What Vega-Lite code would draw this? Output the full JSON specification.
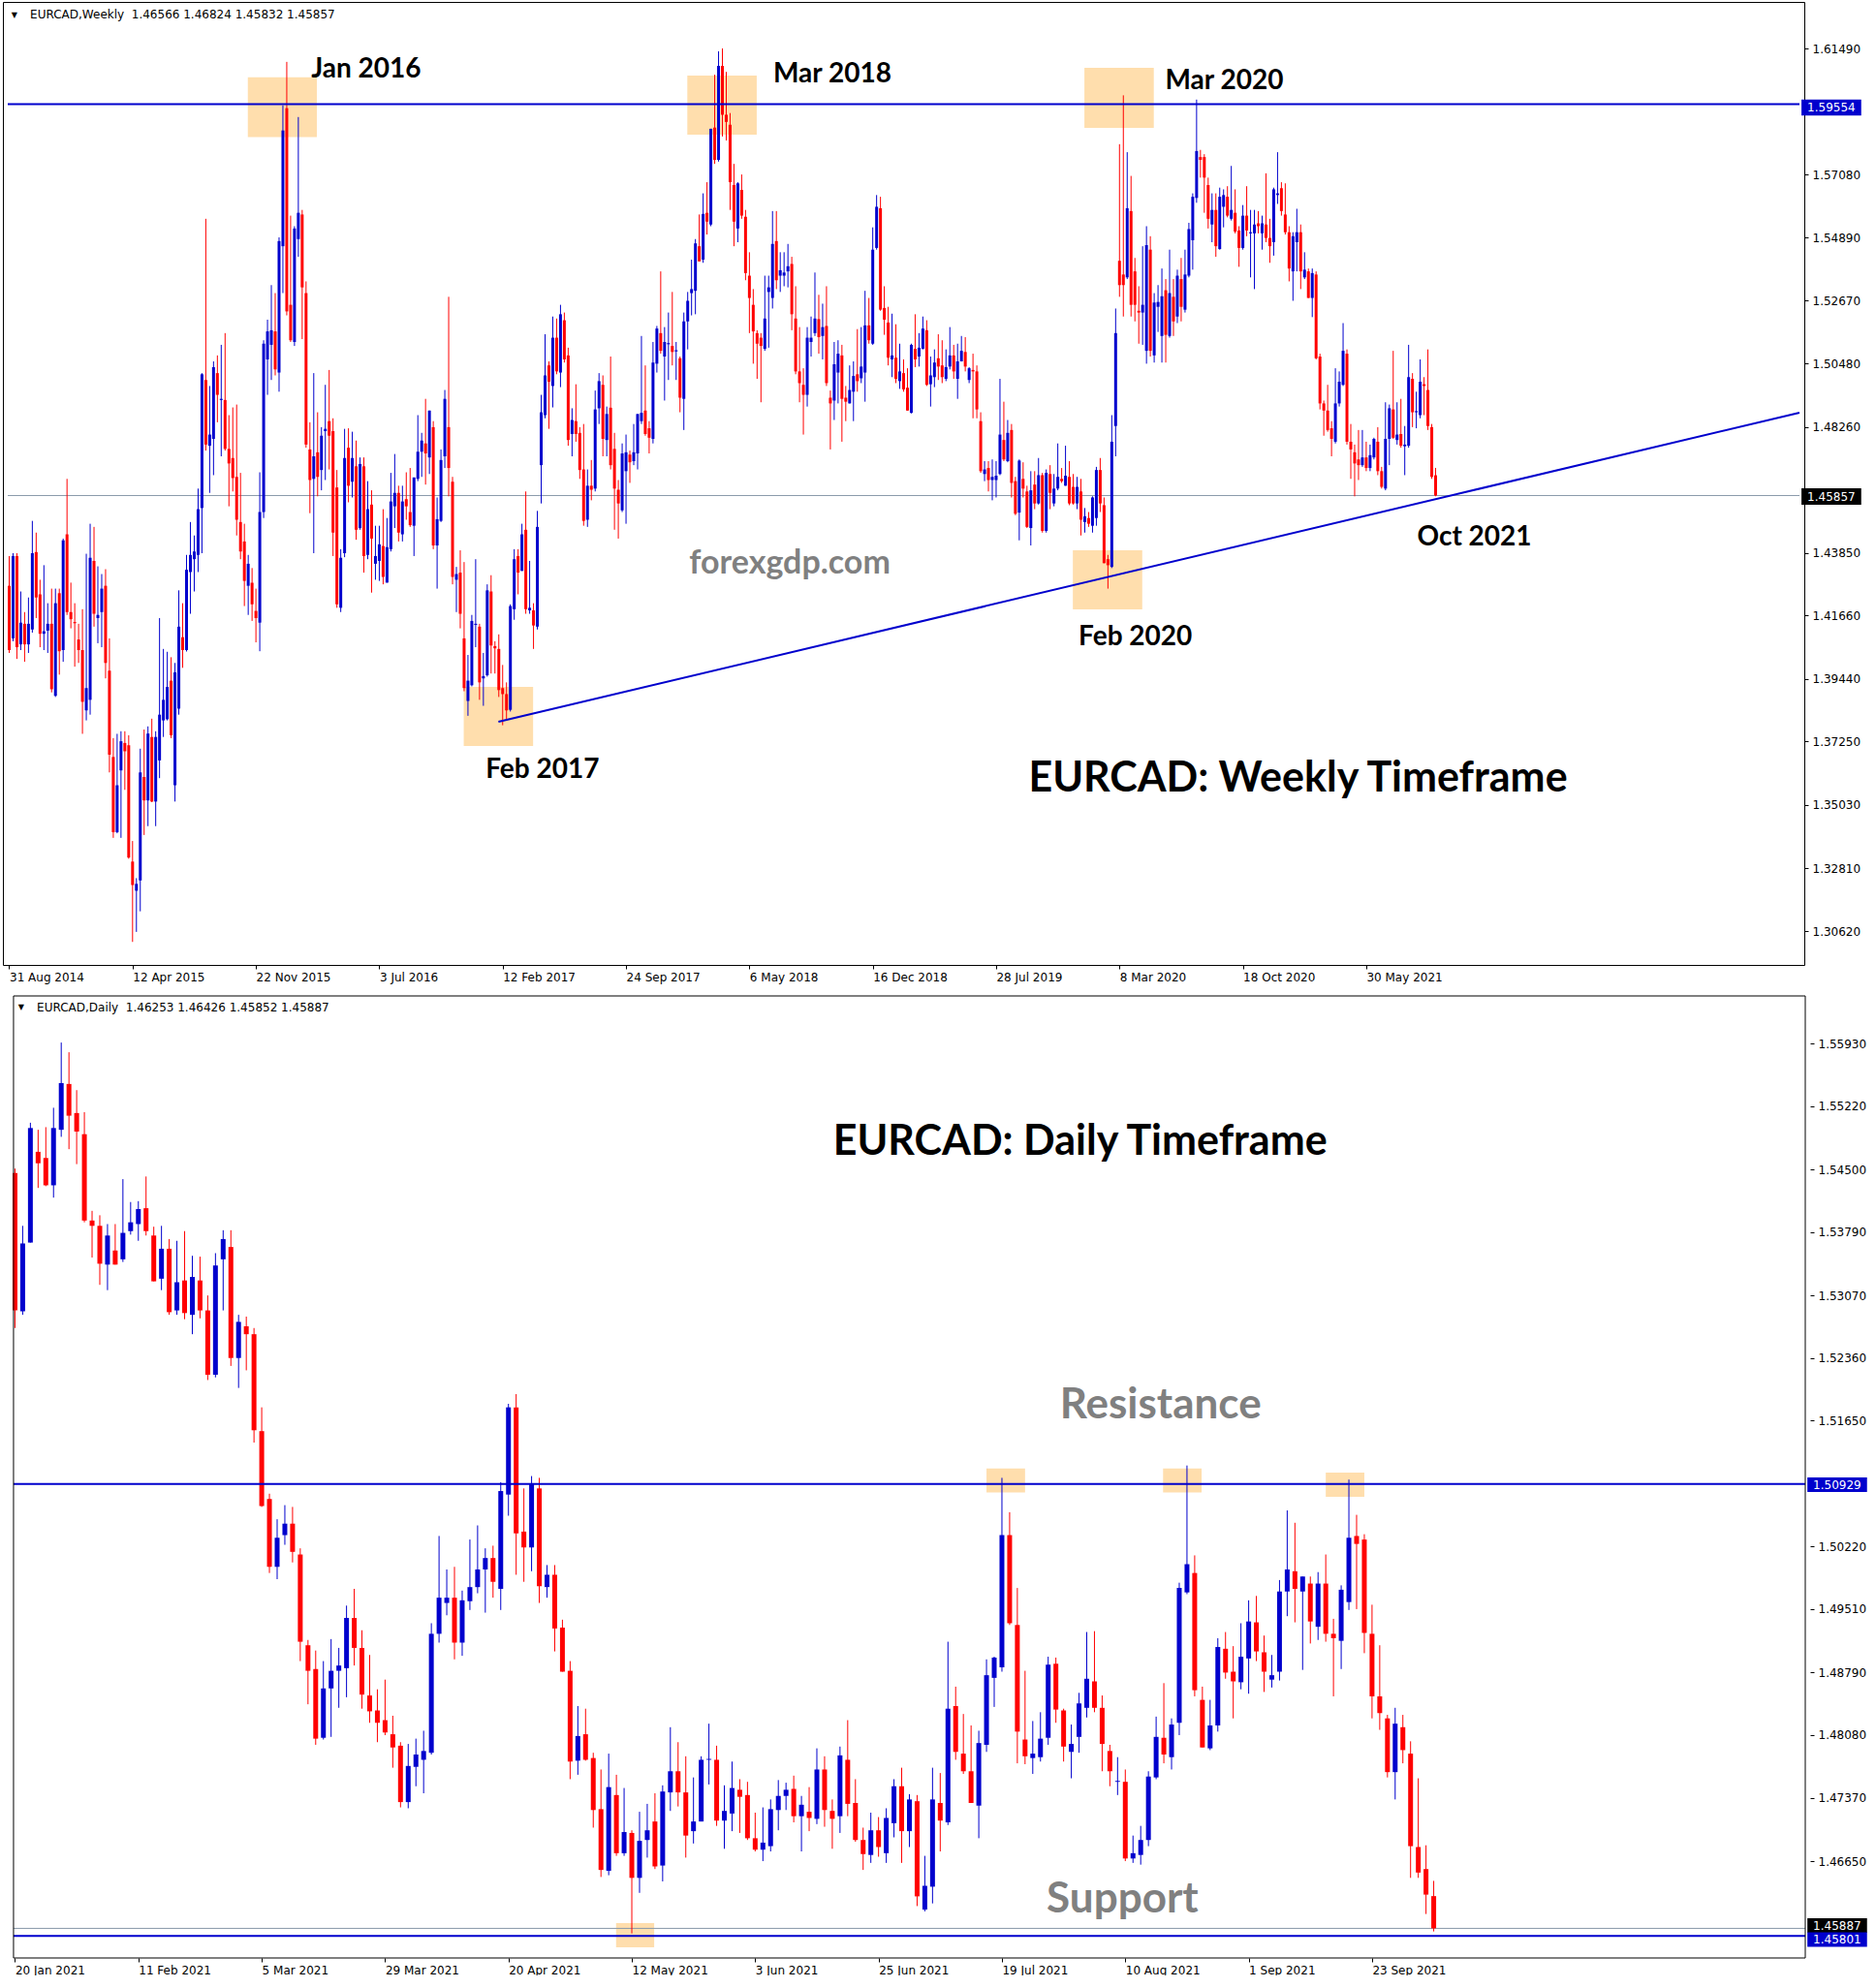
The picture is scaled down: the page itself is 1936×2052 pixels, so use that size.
{
"$schema": "https://vega.github.io/schema/vega-lite/v6.json",
"background": "white",
"padding": {"left": 2, "top": 1, "right": 0, "bottom": 0},
"config": {
  "view": {"stroke": "#000000", "strokeWidth": 1},
  "concat": {"spacing": 12},
  "axis": {"labelFont": "DejaVu Sans", "labelFontSize": 12, "labelColor": "#000000", "tickColor": "#000000", "tickSize": 4, "tickWidth": 1, "labelPadding": 4, "domain": false, "grid": false, "labelOverlap": false, "labelFlush": false, "labelBound": false},
  "text": {"font": "Lato"}
},
"datasets": {
"w": [
{"i":0,"o":1.4270,"h":1.4374,"l":1.4035,"c":1.4045},
{"i":1,"o":1.4086,"h":1.4384,"l":1.4076,"c":1.4374},
{"i":2,"o":1.4374,"h":1.4384,"l":1.4014,"c":1.4055},
{"i":3,"o":1.4065,"h":1.4250,"l":1.4045,"c":1.4141},
{"i":4,"o":1.4137,"h":1.4178,"l":1.4004,"c":1.4065},
{"i":5,"o":1.4065,"h":1.4229,"l":1.4035,"c":1.4137},
{"i":6,"o":1.4117,"h":1.4497,"l":1.4106,"c":1.4384},
{"i":7,"o":1.4388,"h":1.4456,"l":1.4157,"c":1.4229},
{"i":8,"o":1.4240,"h":1.4291,"l":1.4055,"c":1.4102},
{"i":9,"o":1.4102,"h":1.4342,"l":1.4045,"c":1.4111},
{"i":10,"o":1.4113,"h":1.4209,"l":1.4035,"c":1.4137},
{"i":11,"o":1.4137,"h":1.4260,"l":1.3897,"c":1.3908},
{"i":12,"o":1.3885,"h":1.4260,"l":1.3881,"c":1.4209},
{"i":13,"o":1.4244,"h":1.4260,"l":1.3959,"c":1.4041},
{"i":14,"o":1.4045,"h":1.4435,"l":1.4004,"c":1.4429},
{"i":15,"o":1.4450,"h":1.4644,"l":1.4168,"c":1.4178},
{"i":16,"o":1.4178,"h":1.4281,"l":1.4121,"c":1.4153},
{"i":17,"o":1.4143,"h":1.4209,"l":1.3987,"c":1.4139},
{"i":18,"o":1.4082,"h":1.4137,"l":1.4000,"c":1.4045},
{"i":19,"o":1.4045,"h":1.4188,"l":1.3752,"c":1.3864},
{"i":20,"o":1.3834,"h":1.4382,"l":1.3799,"c":1.3912},
{"i":21,"o":1.3871,"h":1.4487,"l":1.3819,"c":1.4368},
{"i":22,"o":1.4357,"h":1.4476,"l":1.4127,"c":1.4172},
{"i":23,"o":1.4157,"h":1.4338,"l":1.4069,"c":1.4168},
{"i":24,"o":1.4178,"h":1.4311,"l":1.4055,"c":1.4260},
{"i":25,"o":1.4270,"h":1.4328,"l":1.3946,"c":1.4000},
{"i":26,"o":1.3973,"h":1.4086,"l":1.3617,"c":1.3679},
{"i":27,"o":1.3671,"h":1.3737,"l":1.3388,"c":1.3408},
{"i":28,"o":1.3408,"h":1.3752,"l":1.3404,"c":1.3572},
{"i":29,"o":1.3624,"h":1.3761,"l":1.3388,"c":1.3726},
{"i":30,"o":1.3720,"h":1.3761,"l":1.3556,"c":1.3691},
{"i":31,"o":1.3712,"h":1.3747,"l":1.3315,"c":1.3319},
{"i":32,"o":1.3305,"h":1.3377,"l":1.3024,"c":1.3223},
{"i":33,"o":1.3203,"h":1.3247,"l":1.3059,"c":1.3227},
{"i":34,"o":1.3239,"h":1.3700,"l":1.3131,"c":1.3617},
{"i":35,"o":1.3601,"h":1.3767,"l":1.3398,"c":1.3519},
{"i":36,"o":1.3519,"h":1.3778,"l":1.3429,"c":1.3753},
{"i":37,"o":1.3741,"h":1.3805,"l":1.3513,"c":1.3515},
{"i":38,"o":1.3515,"h":1.3761,"l":1.3429,"c":1.3741},
{"i":39,"o":1.3659,"h":1.4157,"l":1.3597,"c":1.3819},
{"i":40,"o":1.3799,"h":1.4049,"l":1.3741,"c":1.3871},
{"i":41,"o":1.3803,"h":1.4039,"l":1.3799,"c":1.3916},
{"i":42,"o":1.3938,"h":1.4020,"l":1.3737,"c":1.3747},
{"i":43,"o":1.3572,"h":1.4000,"l":1.3515,"c":1.3967},
{"i":44,"o":1.3840,"h":1.4254,"l":1.3819,"c":1.4127},
{"i":45,"o":1.4090,"h":1.4209,"l":1.3983,"c":1.4045},
{"i":46,"o":1.4045,"h":1.4378,"l":1.4040,"c":1.4326},
{"i":47,"o":1.4318,"h":1.4493,"l":1.4172,"c":1.4378},
{"i":48,"o":1.4363,"h":1.4446,"l":1.4250,"c":1.4390},
{"i":49,"o":1.4378,"h":1.4610,"l":1.4318,"c":1.4538},
{"i":50,"o":1.4542,"h":1.5014,"l":1.4384,"c":1.5010},
{"i":51,"o":1.4990,"h":1.5554,"l":1.4743,"c":1.4764},
{"i":52,"o":1.4760,"h":1.4969,"l":1.4595,"c":1.4799},
{"i":53,"o":1.4784,"h":1.5055,"l":1.4657,"c":1.5035},
{"i":54,"o":1.5014,"h":1.5076,"l":1.4842,"c":1.4938},
{"i":55,"o":1.4920,"h":1.5113,"l":1.4723,"c":1.4924},
{"i":56,"o":1.4920,"h":1.5154,"l":1.4743,"c":1.4749},
{"i":57,"o":1.4749,"h":1.4867,"l":1.4548,"c":1.4698},
{"i":58,"o":1.4717,"h":1.4894,"l":1.4600,"c":1.4647},
{"i":59,"o":1.4651,"h":1.4904,"l":1.4446,"c":1.4501},
{"i":60,"o":1.4493,"h":1.4665,"l":1.4363,"c":1.4390},
{"i":61,"o":1.4425,"h":1.4487,"l":1.4199,"c":1.4287},
{"i":62,"o":1.4270,"h":1.4378,"l":1.4168,"c":1.4347},
{"i":63,"o":1.4281,"h":1.4332,"l":1.4147,"c":1.4205},
{"i":64,"o":1.4182,"h":1.4260,"l":1.4072,"c":1.4157},
{"i":65,"o":1.4141,"h":1.4667,"l":1.4041,"c":1.4528},
{"i":66,"o":1.4528,"h":1.5129,"l":1.4507,"c":1.5117},
{"i":67,"o":1.5062,"h":1.5201,"l":1.4938,"c":1.5160},
{"i":68,"o":1.5113,"h":1.5322,"l":1.4990,"c":1.5164},
{"i":69,"o":1.5160,"h":1.5294,"l":1.5006,"c":1.5027},
{"i":70,"o":1.5016,"h":1.5489,"l":1.4949,"c":1.5476},
{"i":71,"o":1.5458,"h":1.5951,"l":1.5294,"c":1.5863},
{"i":72,"o":1.5941,"h":1.6103,"l":1.5216,"c":1.5230},
{"i":73,"o":1.5253,"h":1.5565,"l":1.5123,"c":1.5129},
{"i":74,"o":1.5123,"h":1.5528,"l":1.5109,"c":1.5520},
{"i":75,"o":1.5483,"h":1.5910,"l":1.5421,"c":1.5575},
{"i":76,"o":1.5569,"h":1.5585,"l":1.5133,"c":1.5314},
{"i":77,"o":1.5294,"h":1.5335,"l":1.4753,"c":1.4764},
{"i":78,"o":1.4747,"h":1.4842,"l":1.4524,"c":1.4640},
{"i":79,"o":1.4644,"h":1.5014,"l":1.4384,"c":1.4723},
{"i":80,"o":1.4737,"h":1.4877,"l":1.4583,"c":1.4651},
{"i":81,"o":1.4675,"h":1.4825,"l":1.4604,"c":1.4795},
{"i":82,"o":1.4811,"h":1.4973,"l":1.4640,"c":1.4819},
{"i":83,"o":1.4846,"h":1.5025,"l":1.4677,"c":1.4795},
{"i":84,"o":1.4811,"h":1.4856,"l":1.4374,"c":1.4456},
{"i":85,"o":1.4614,"h":1.4675,"l":1.4193,"c":1.4205},
{"i":86,"o":1.4193,"h":1.4398,"l":1.4178,"c":1.4368},
{"i":87,"o":1.4384,"h":1.4819,"l":1.4370,"c":1.4717},
{"i":88,"o":1.4753,"h":1.4821,"l":1.4562,"c":1.4620},
{"i":89,"o":1.4634,"h":1.4809,"l":1.4579,"c":1.4717},
{"i":90,"o":1.4688,"h":1.4778,"l":1.4431,"c":1.4466},
{"i":91,"o":1.4472,"h":1.4719,"l":1.4466,"c":1.4696},
{"i":92,"o":1.4688,"h":1.4719,"l":1.4316,"c":1.4374},
{"i":93,"o":1.4378,"h":1.4636,"l":1.4363,"c":1.4538},
{"i":94,"o":1.4554,"h":1.4604,"l":1.4246,"c":1.4435},
{"i":95,"o":1.4347,"h":1.4480,"l":1.4291,"c":1.4374},
{"i":96,"o":1.4357,"h":1.4480,"l":1.4287,"c":1.4415},
{"i":97,"o":1.4409,"h":1.4538,"l":1.4275,"c":1.4301},
{"i":98,"o":1.4281,"h":1.4507,"l":1.4281,"c":1.4405},
{"i":99,"o":1.4398,"h":1.4665,"l":1.4390,"c":1.4565},
{"i":100,"o":1.4548,"h":1.4731,"l":1.4472,"c":1.4595},
{"i":101,"o":1.4595,"h":1.4620,"l":1.4425,"c":1.4456},
{"i":102,"o":1.4450,"h":1.4620,"l":1.4425,"c":1.4565},
{"i":103,"o":1.4573,"h":1.4667,"l":1.4501,"c":1.4548},
{"i":104,"o":1.4528,"h":1.4682,"l":1.4476,"c":1.4482},
{"i":105,"o":1.4480,"h":1.4649,"l":1.4374,"c":1.4649},
{"i":106,"o":1.4644,"h":1.4867,"l":1.4636,"c":1.4739},
{"i":107,"o":1.4739,"h":1.4805,"l":1.4651,"c":1.4778},
{"i":108,"o":1.4768,"h":1.4924,"l":1.4624,"c":1.4733},
{"i":109,"o":1.4719,"h":1.4883,"l":1.4661,"c":1.4883},
{"i":110,"o":1.4825,"h":1.4846,"l":1.4398,"c":1.4411},
{"i":111,"o":1.4411,"h":1.4579,"l":1.4260,"c":1.4503},
{"i":112,"o":1.4497,"h":1.4747,"l":1.4493,"c":1.4710},
{"i":113,"o":1.4723,"h":1.4955,"l":1.4682,"c":1.4924},
{"i":114,"o":1.4825,"h":1.5281,"l":1.4583,"c":1.4682},
{"i":115,"o":1.4634,"h":1.4651,"l":1.4275,"c":1.4301},
{"i":116,"o":1.4291,"h":1.4336,"l":1.4178,"c":1.4311},
{"i":117,"o":1.4316,"h":1.4394,"l":1.4121,"c":1.4172},
{"i":118,"o":1.4086,"h":1.4353,"l":1.3901,"c":1.3912},
{"i":119,"o":1.3867,"h":1.4028,"l":1.3815,"c":1.3938},
{"i":120,"o":1.3922,"h":1.4168,"l":1.3918,"c":1.4147},
{"i":121,"o":1.4133,"h":1.4363,"l":1.4055,"c":1.4137},
{"i":122,"o":1.4127,"h":1.4137,"l":1.3871,"c":1.3932},
{"i":123,"o":1.3946,"h":1.4035,"l":1.3850,"c":1.3954},
{"i":124,"o":1.3957,"h":1.4275,"l":1.3952,"c":1.4254},
{"i":125,"o":1.4250,"h":1.4307,"l":1.3963,"c":1.4061},
{"i":126,"o":1.4059,"h":1.4076,"l":1.3963,"c":1.4051},
{"i":127,"o":1.4049,"h":1.4100,"l":1.3881,"c":1.3905},
{"i":128,"o":1.3912,"h":1.3993,"l":1.3782,"c":1.3891},
{"i":129,"o":1.3891,"h":1.3932,"l":1.3799,"c":1.3834},
{"i":130,"o":1.3836,"h":1.4205,"l":1.3830,"c":1.4199},
{"i":131,"o":1.4188,"h":1.4398,"l":1.4151,"c":1.4363},
{"i":132,"o":1.4374,"h":1.4398,"l":1.4240,"c":1.4316},
{"i":133,"o":1.4322,"h":1.4487,"l":1.4322,"c":1.4450},
{"i":134,"o":1.4466,"h":1.4600,"l":1.4172,"c":1.4188},
{"i":135,"o":1.4184,"h":1.4357,"l":1.4172,"c":1.4193},
{"i":136,"o":1.4184,"h":1.4209,"l":1.4049,"c":1.4131},
{"i":137,"o":1.4127,"h":1.4532,"l":1.4117,"c":1.4476},
{"i":138,"o":1.4692,"h":1.4938,"l":1.4558,"c":1.4877},
{"i":139,"o":1.4867,"h":1.5150,"l":1.4856,"c":1.5006},
{"i":140,"o":1.5041,"h":1.5055,"l":1.4819,"c":1.4984},
{"i":141,"o":1.4969,"h":1.5212,"l":1.4894,"c":1.5138},
{"i":142,"o":1.5138,"h":1.5205,"l":1.5010,"c":1.5020},
{"i":143,"o":1.5016,"h":1.5253,"l":1.4965,"c":1.5220},
{"i":144,"o":1.5199,"h":1.5226,"l":1.5051,"c":1.5062},
{"i":145,"o":1.5076,"h":1.5103,"l":1.4760,"c":1.4780},
{"i":146,"o":1.4801,"h":1.4891,"l":1.4723,"c":1.4850},
{"i":147,"o":1.4846,"h":1.4975,"l":1.4774,"c":1.4801},
{"i":148,"o":1.4805,"h":1.4825,"l":1.4644,"c":1.4675},
{"i":149,"o":1.4677,"h":1.4836,"l":1.4480,"c":1.4497},
{"i":150,"o":1.4501,"h":1.4677,"l":1.4476,"c":1.4620},
{"i":151,"o":1.4620,"h":1.4710,"l":1.4569,"c":1.4606},
{"i":152,"o":1.4610,"h":1.4953,"l":1.4600,"c":1.4887},
{"i":153,"o":1.4891,"h":1.5014,"l":1.4836,"c":1.4986},
{"i":154,"o":1.4973,"h":1.5006,"l":1.4723,"c":1.4784},
{"i":155,"o":1.4780,"h":1.4897,"l":1.4723,"c":1.4871},
{"i":156,"o":1.4893,"h":1.5072,"l":1.4677,"c":1.4692},
{"i":157,"o":1.4749,"h":1.4805,"l":1.4466,"c":1.4610},
{"i":158,"o":1.4606,"h":1.4640,"l":1.4435,"c":1.4558},
{"i":159,"o":1.4534,"h":1.4768,"l":1.4528,"c":1.4733},
{"i":160,"o":1.4671,"h":1.4799,"l":1.4487,"c":1.4737},
{"i":161,"o":1.4729,"h":1.4743,"l":1.4630,"c":1.4702},
{"i":162,"o":1.4706,"h":1.4836,"l":1.4692,"c":1.4737},
{"i":163,"o":1.4733,"h":1.4871,"l":1.4677,"c":1.4871},
{"i":164,"o":1.4846,"h":1.5144,"l":1.4836,"c":1.4875},
{"i":165,"o":1.4883,"h":1.5041,"l":1.4795,"c":1.4801},
{"i":166,"o":1.4821,"h":1.4846,"l":1.4733,"c":1.4788},
{"i":167,"o":1.4784,"h":1.5123,"l":1.4768,"c":1.5051},
{"i":168,"o":1.5047,"h":1.5179,"l":1.5016,"c":1.5170},
{"i":169,"o":1.5154,"h":1.5370,"l":1.5082,"c":1.5092},
{"i":170,"o":1.5072,"h":1.5175,"l":1.4918,"c":1.5123},
{"i":171,"o":1.5115,"h":1.5226,"l":1.4990,"c":1.5119},
{"i":172,"o":1.5109,"h":1.5298,"l":1.5041,"c":1.5088},
{"i":173,"o":1.5090,"h":1.5123,"l":1.4990,"c":1.5094},
{"i":174,"o":1.5066,"h":1.5072,"l":1.4877,"c":1.4928},
{"i":175,"o":1.4924,"h":1.5226,"l":1.4815,"c":1.5195},
{"i":176,"o":1.5195,"h":1.5298,"l":1.5097,"c":1.5267},
{"i":177,"o":1.5294,"h":1.5411,"l":1.5216,"c":1.5308},
{"i":178,"o":1.5302,"h":1.5483,"l":1.5220,"c":1.5468},
{"i":179,"o":1.5458,"h":1.5569,"l":1.5405,"c":1.5405},
{"i":180,"o":1.5411,"h":1.5643,"l":1.5400,"c":1.5571},
{"i":181,"o":1.5575,"h":1.5682,"l":1.5499,"c":1.5544},
{"i":182,"o":1.5534,"h":1.5869,"l":1.5528,"c":1.5869},
{"i":183,"o":1.5873,"h":1.6058,"l":1.5746,"c":1.5760},
{"i":184,"o":1.5760,"h":1.6140,"l":1.5754,"c":1.6089},
{"i":185,"o":1.6089,"h":1.6150,"l":1.5842,"c":1.5918},
{"i":186,"o":1.5918,"h":1.6068,"l":1.5828,"c":1.5893},
{"i":187,"o":1.5883,"h":1.5924,"l":1.5585,"c":1.5682},
{"i":188,"o":1.5672,"h":1.5746,"l":1.5458,"c":1.5544},
{"i":189,"o":1.5520,"h":1.5682,"l":1.5472,"c":1.5678},
{"i":190,"o":1.5655,"h":1.5709,"l":1.5554,"c":1.5565},
{"i":191,"o":1.5561,"h":1.5585,"l":1.5339,"c":1.5364},
{"i":192,"o":1.5355,"h":1.5437,"l":1.5154,"c":1.5277},
{"i":193,"o":1.5253,"h":1.5308,"l":1.5047,"c":1.5160},
{"i":194,"o":1.5154,"h":1.5164,"l":1.4994,"c":1.5117},
{"i":195,"o":1.5138,"h":1.5154,"l":1.4912,"c":1.5109},
{"i":196,"o":1.5099,"h":1.5355,"l":1.5092,"c":1.5205},
{"i":197,"o":1.5298,"h":1.5355,"l":1.5103,"c":1.5314},
{"i":198,"o":1.5277,"h":1.5581,"l":1.5240,"c":1.5466},
{"i":199,"o":1.5476,"h":1.5581,"l":1.5308,"c":1.5339},
{"i":200,"o":1.5355,"h":1.5437,"l":1.5298,"c":1.5374},
{"i":201,"o":1.5355,"h":1.5437,"l":1.5318,"c":1.5366},
{"i":202,"o":1.5370,"h":1.5466,"l":1.5314,"c":1.5388},
{"i":203,"o":1.5396,"h":1.5421,"l":1.5164,"c":1.5220},
{"i":204,"o":1.5205,"h":1.5318,"l":1.5010,"c":1.5020},
{"i":205,"o":1.5020,"h":1.5175,"l":1.4912,"c":1.4979},
{"i":206,"o":1.4973,"h":1.5031,"l":1.4799,"c":1.4938},
{"i":207,"o":1.4938,"h":1.5175,"l":1.4897,"c":1.5138},
{"i":208,"o":1.5123,"h":1.5212,"l":1.5072,"c":1.5138},
{"i":209,"o":1.5154,"h":1.5366,"l":1.5144,"c":1.5205},
{"i":210,"o":1.5203,"h":1.5288,"l":1.5082,"c":1.5140},
{"i":211,"o":1.5144,"h":1.5257,"l":1.5062,"c":1.5175},
{"i":212,"o":1.5179,"h":1.5318,"l":1.4969,"c":1.4979},
{"i":213,"o":1.4928,"h":1.4953,"l":1.4747,"c":1.4908},
{"i":214,"o":1.4918,"h":1.5123,"l":1.4850,"c":1.5045},
{"i":215,"o":1.5016,"h":1.5129,"l":1.4908,"c":1.5082},
{"i":216,"o":1.5076,"h":1.5113,"l":1.4774,"c":1.4924},
{"i":217,"o":1.4928,"h":1.4969,"l":1.4846,"c":1.4914},
{"i":218,"o":1.4908,"h":1.5041,"l":1.4908,"c":1.4955},
{"i":219,"o":1.4949,"h":1.5055,"l":1.4846,"c":1.5004},
{"i":220,"o":1.5010,"h":1.5168,"l":1.4949,"c":1.4986},
{"i":221,"o":1.4996,"h":1.5175,"l":1.4979,"c":1.5037},
{"i":222,"o":1.5016,"h":1.5302,"l":1.4914,"c":1.5181},
{"i":223,"o":1.5181,"h":1.5277,"l":1.5117,"c":1.5129},
{"i":224,"o":1.5117,"h":1.5524,"l":1.5113,"c":1.5446},
{"i":225,"o":1.5452,"h":1.5637,"l":1.5446,"c":1.5596},
{"i":226,"o":1.5591,"h":1.5631,"l":1.5232,"c":1.5236},
{"i":227,"o":1.5242,"h":1.5318,"l":1.5148,"c":1.5201},
{"i":228,"o":1.5191,"h":1.5246,"l":1.5041,"c":1.5068},
{"i":229,"o":1.5062,"h":1.5222,"l":1.5000,"c":1.5076},
{"i":230,"o":1.5068,"h":1.5185,"l":1.4979,"c":1.4994},
{"i":231,"o":1.4986,"h":1.5117,"l":1.4959,"c":1.5020},
{"i":232,"o":1.5014,"h":1.5062,"l":1.4949,"c":1.4957},
{"i":233,"o":1.4963,"h":1.5031,"l":1.4883,"c":1.4883},
{"i":234,"o":1.4875,"h":1.5117,"l":1.4873,"c":1.5113},
{"i":235,"o":1.5099,"h":1.5220,"l":1.5035,"c":1.5062},
{"i":236,"o":1.5072,"h":1.5154,"l":1.5037,"c":1.5103},
{"i":237,"o":1.5099,"h":1.5212,"l":1.5097,"c":1.5170},
{"i":238,"o":1.5164,"h":1.5199,"l":1.4969,"c":1.4973},
{"i":239,"o":1.4975,"h":1.5072,"l":1.4897,"c":1.5006},
{"i":240,"o":1.5000,"h":1.5097,"l":1.4965,"c":1.5051},
{"i":241,"o":1.5066,"h":1.5150,"l":1.4990,"c":1.5037},
{"i":242,"o":1.5041,"h":1.5129,"l":1.4979,"c":1.5000},
{"i":243,"o":1.4994,"h":1.5097,"l":1.4986,"c":1.5035},
{"i":244,"o":1.5037,"h":1.5175,"l":1.5027,"c":1.5076},
{"i":245,"o":1.5076,"h":1.5113,"l":1.4994,"c":1.5020},
{"i":246,"o":1.4994,"h":1.5117,"l":1.4924,"c":1.5055},
{"i":247,"o":1.5055,"h":1.5144,"l":1.5055,"c":1.5092},
{"i":248,"o":1.5088,"h":1.5140,"l":1.5020,"c":1.5037},
{"i":249,"o":1.4990,"h":1.5035,"l":1.4979,"c":1.5031},
{"i":250,"o":1.5025,"h":1.5082,"l":1.4856,"c":1.5020},
{"i":251,"o":1.5020,"h":1.5041,"l":1.4856,"c":1.4887},
{"i":252,"o":1.4846,"h":1.4877,"l":1.4665,"c":1.4671},
{"i":253,"o":1.4661,"h":1.4706,"l":1.4636,"c":1.4677},
{"i":254,"o":1.4682,"h":1.4706,"l":1.4600,"c":1.4640},
{"i":255,"o":1.4640,"h":1.4712,"l":1.4569,"c":1.4651},
{"i":256,"o":1.4640,"h":1.4706,"l":1.4579,"c":1.4655},
{"i":257,"o":1.4661,"h":1.4994,"l":1.4657,"c":1.4799},
{"i":258,"o":1.4780,"h":1.4914,"l":1.4706,"c":1.4712},
{"i":259,"o":1.4706,"h":1.4850,"l":1.4702,"c":1.4805},
{"i":260,"o":1.4815,"h":1.4836,"l":1.4579,"c":1.4630},
{"i":261,"o":1.4636,"h":1.4651,"l":1.4517,"c":1.4522},
{"i":262,"o":1.4526,"h":1.4712,"l":1.4429,"c":1.4708},
{"i":263,"o":1.4644,"h":1.4702,"l":1.4579,"c":1.4610},
{"i":264,"o":1.4600,"h":1.4620,"l":1.4472,"c":1.4476},
{"i":265,"o":1.4472,"h":1.4671,"l":1.4411,"c":1.4604},
{"i":266,"o":1.4624,"h":1.4671,"l":1.4538,"c":1.4558},
{"i":267,"o":1.4558,"h":1.4717,"l":1.4554,"c":1.4657},
{"i":268,"o":1.4657,"h":1.4665,"l":1.4456,"c":1.4462},
{"i":269,"o":1.4462,"h":1.4677,"l":1.4456,"c":1.4665},
{"i":270,"o":1.4661,"h":1.4692,"l":1.4538,"c":1.4595},
{"i":271,"o":1.4558,"h":1.4661,"l":1.4548,"c":1.4610},
{"i":272,"o":1.4610,"h":1.4768,"l":1.4604,"c":1.4651},
{"i":273,"o":1.4644,"h":1.4682,"l":1.4630,"c":1.4636},
{"i":274,"o":1.4620,"h":1.4760,"l":1.4620,"c":1.4655},
{"i":275,"o":1.4651,"h":1.4706,"l":1.4552,"c":1.4558},
{"i":276,"o":1.4616,"h":1.4661,"l":1.4554,"c":1.4558},
{"i":277,"o":1.4558,"h":1.4651,"l":1.4538,"c":1.4616},
{"i":278,"o":1.4600,"h":1.4644,"l":1.4446,"c":1.4501},
{"i":279,"o":1.4493,"h":1.4542,"l":1.4456,"c":1.4513},
{"i":280,"o":1.4507,"h":1.4528,"l":1.4476,"c":1.4487},
{"i":281,"o":1.4480,"h":1.4583,"l":1.4456,"c":1.4579},
{"i":282,"o":1.4507,"h":1.4686,"l":1.4480,"c":1.4675},
{"i":283,"o":1.4675,"h":1.4717,"l":1.4528,"c":1.4558},
{"i":284,"o":1.4552,"h":1.4579,"l":1.4349,"c":1.4349},
{"i":285,"o":1.4363,"h":1.4378,"l":1.4260,"c":1.4342},
{"i":286,"o":1.4336,"h":1.4867,"l":1.4332,"c":1.4774},
{"i":287,"o":1.4829,"h":1.5240,"l":1.4723,"c":1.5154},
{"i":288,"o":1.5407,"h":1.5815,"l":1.5281,"c":1.5322},
{"i":289,"o":1.5359,"h":1.5986,"l":1.5212,"c":1.5322},
{"i":290,"o":1.5349,"h":1.5787,"l":1.5343,"c":1.5591},
{"i":291,"o":1.5581,"h":1.5704,"l":1.5212,"c":1.5253},
{"i":292,"o":1.5370,"h":1.5417,"l":1.5195,"c":1.5253},
{"i":293,"o":1.5232,"h":1.5318,"l":1.5117,"c":1.5226},
{"i":294,"o":1.5226,"h":1.5458,"l":1.5113,"c":1.5253},
{"i":295,"o":1.5092,"h":1.5528,"l":1.5047,"c":1.5462},
{"i":296,"o":1.5446,"h":1.5493,"l":1.5072,"c":1.5092},
{"i":297,"o":1.5076,"h":1.5294,"l":1.5051,"c":1.5261},
{"i":298,"o":1.5246,"h":1.5322,"l":1.5158,"c":1.5263},
{"i":299,"o":1.5144,"h":1.5380,"l":1.5051,"c":1.5283},
{"i":300,"o":1.5304,"h":1.5343,"l":1.5051,"c":1.5148},
{"i":301,"o":1.5144,"h":1.5446,"l":1.5138,"c":1.5294},
{"i":302,"o":1.5281,"h":1.5343,"l":1.5144,"c":1.5195},
{"i":303,"o":1.5212,"h":1.5376,"l":1.5189,"c":1.5355},
{"i":304,"o":1.5343,"h":1.5417,"l":1.5195,"c":1.5246},
{"i":305,"o":1.5236,"h":1.5446,"l":1.5226,"c":1.5359},
{"i":306,"o":1.5355,"h":1.5540,"l":1.5349,"c":1.5518},
{"i":307,"o":1.5479,"h":1.5643,"l":1.5376,"c":1.5631},
{"i":308,"o":1.5627,"h":1.5971,"l":1.5610,"c":1.5791},
{"i":309,"o":1.5770,"h":1.5795,"l":1.5698,"c":1.5760},
{"i":310,"o":1.5770,"h":1.5780,"l":1.5575,"c":1.5698},
{"i":311,"o":1.5672,"h":1.5698,"l":1.5520,"c":1.5554},
{"i":312,"o":1.5534,"h":1.5643,"l":1.5472,"c":1.5585},
{"i":313,"o":1.5585,"h":1.5643,"l":1.5421,"c":1.5458},
{"i":314,"o":1.5448,"h":1.5663,"l":1.5446,"c":1.5631},
{"i":315,"o":1.5596,"h":1.5657,"l":1.5524,"c":1.5637},
{"i":316,"o":1.5631,"h":1.5668,"l":1.5559,"c":1.5565},
{"i":317,"o":1.5554,"h":1.5739,"l":1.5548,"c":1.5585},
{"i":318,"o":1.5575,"h":1.5657,"l":1.5503,"c":1.5509},
{"i":319,"o":1.5513,"h":1.5528,"l":1.5386,"c":1.5452},
{"i":320,"o":1.5452,"h":1.5602,"l":1.5446,"c":1.5565},
{"i":321,"o":1.5565,"h":1.5668,"l":1.5493,"c":1.5513},
{"i":322,"o":1.5503,"h":1.5585,"l":1.5349,"c":1.5507},
{"i":323,"o":1.5503,"h":1.5585,"l":1.5308,"c":1.5534},
{"i":324,"o":1.5538,"h":1.5581,"l":1.5503,"c":1.5528},
{"i":325,"o":1.5503,"h":1.5565,"l":1.5446,"c":1.5538},
{"i":326,"o":1.5534,"h":1.5713,"l":1.5472,"c":1.5487},
{"i":327,"o":1.5487,"h":1.5554,"l":1.5400,"c":1.5458},
{"i":328,"o":1.5472,"h":1.5663,"l":1.5425,"c":1.5657},
{"i":329,"o":1.5637,"h":1.5787,"l":1.5606,"c":1.5643},
{"i":330,"o":1.5661,"h":1.5682,"l":1.5565,"c":1.5581},
{"i":331,"o":1.5569,"h":1.5678,"l":1.5499,"c":1.5507},
{"i":332,"o":1.5507,"h":1.5528,"l":1.5335,"c":1.5380},
{"i":333,"o":1.5370,"h":1.5507,"l":1.5267,"c":1.5493},
{"i":334,"o":1.5472,"h":1.5589,"l":1.5370,"c":1.5507},
{"i":335,"o":1.5507,"h":1.5534,"l":1.5308,"c":1.5370},
{"i":336,"o":1.5349,"h":1.5437,"l":1.5343,"c":1.5376},
{"i":337,"o":1.5370,"h":1.5380,"l":1.5277,"c":1.5277},
{"i":338,"o":1.5277,"h":1.5380,"l":1.5210,"c":1.5364},
{"i":339,"o":1.5359,"h":1.5370,"l":1.5062,"c":1.5066},
{"i":340,"o":1.5072,"h":1.5082,"l":1.4887,"c":1.4908},
{"i":341,"o":1.4908,"h":1.4918,"l":1.4795,"c":1.4883},
{"i":342,"o":1.4883,"h":1.4973,"l":1.4809,"c":1.4815},
{"i":343,"o":1.4821,"h":1.4846,"l":1.4723,"c":1.4784},
{"i":344,"o":1.4774,"h":1.5031,"l":1.4768,"c":1.4908},
{"i":345,"o":1.4908,"h":1.5020,"l":1.4897,"c":1.4984},
{"i":346,"o":1.4973,"h":1.5189,"l":1.4969,"c":1.5092},
{"i":347,"o":1.5082,"h":1.5097,"l":1.4764,"c":1.4774},
{"i":348,"o":1.4774,"h":1.4836,"l":1.4644,"c":1.4747},
{"i":349,"o":1.4737,"h":1.4764,"l":1.4583,"c":1.4698},
{"i":350,"o":1.4712,"h":1.4815,"l":1.4640,"c":1.4692},
{"i":351,"o":1.4692,"h":1.4815,"l":1.4686,"c":1.4719},
{"i":352,"o":1.4719,"h":1.4774,"l":1.4671,"c":1.4682},
{"i":353,"o":1.4682,"h":1.4764,"l":1.4671,"c":1.4727},
{"i":354,"o":1.4719,"h":1.4788,"l":1.4712,"c":1.4784},
{"i":355,"o":1.4774,"h":1.4825,"l":1.4657,"c":1.4671},
{"i":356,"o":1.4671,"h":1.4686,"l":1.4610,"c":1.4616},
{"i":357,"o":1.4610,"h":1.4912,"l":1.4604,"c":1.4784},
{"i":358,"o":1.4784,"h":1.4904,"l":1.4692,"c":1.4891},
{"i":359,"o":1.4887,"h":1.5092,"l":1.4784,"c":1.4788},
{"i":360,"o":1.4780,"h":1.4912,"l":1.4764,"c":1.4799},
{"i":361,"o":1.4801,"h":1.4924,"l":1.4753,"c":1.4760},
{"i":362,"o":1.4758,"h":1.4829,"l":1.4657,"c":1.4764},
{"i":363,"o":1.4760,"h":1.5113,"l":1.4753,"c":1.5000},
{"i":364,"o":1.4994,"h":1.5014,"l":1.4825,"c":1.4877},
{"i":365,"o":1.4877,"h":1.4949,"l":1.4821,"c":1.4881},
{"i":366,"o":1.4867,"h":1.5062,"l":1.4856,"c":1.4984},
{"i":367,"o":1.4975,"h":1.5000,"l":1.4867,"c":1.4969},
{"i":368,"o":1.4955,"h":1.5097,"l":1.4815,"c":1.4829},
{"i":369,"o":1.4825,"h":1.4836,"l":1.4644,"c":1.4651},
{"i":370,"o":1.46566,"h":1.46824,"l":1.45832,"c":1.45857}
],
"d": [
{"i":0,"o":1.5446,"h":1.5451,"l":1.5270,"c":1.5290},
{"i":1,"o":1.5289,"h":1.5386,"l":1.5285,"c":1.5366},
{"i":2,"o":1.5367,"h":1.5503,"l":1.5367,"c":1.5497},
{"i":3,"o":1.5470,"h":1.5495,"l":1.5429,"c":1.5457},
{"i":4,"o":1.5463,"h":1.5498,"l":1.5431,"c":1.5432},
{"i":5,"o":1.5432,"h":1.5520,"l":1.5418,"c":1.5497},
{"i":6,"o":1.5495,"h":1.5594,"l":1.5487,"c":1.5548},
{"i":7,"o":1.5547,"h":1.5583,"l":1.5473,"c":1.5511},
{"i":8,"o":1.5514,"h":1.5540,"l":1.5456,"c":1.5493},
{"i":9,"o":1.5490,"h":1.5515,"l":1.5390,"c":1.5392},
{"i":10,"o":1.5392,"h":1.5403,"l":1.5350,"c":1.5386},
{"i":11,"o":1.5386,"h":1.5398,"l":1.5319,"c":1.5343},
{"i":12,"o":1.5342,"h":1.5388,"l":1.5313,"c":1.5375},
{"i":13,"o":1.5358,"h":1.5388,"l":1.5342,"c":1.5342},
{"i":14,"o":1.5348,"h":1.5439,"l":1.5345,"c":1.5378},
{"i":15,"o":1.5380,"h":1.5413,"l":1.5376,"c":1.5390},
{"i":16,"o":1.5388,"h":1.5414,"l":1.5369,"c":1.5405},
{"i":17,"o":1.5406,"h":1.5442,"l":1.5375,"c":1.5380},
{"i":18,"o":1.5375,"h":1.5385,"l":1.5323,"c":1.5323},
{"i":19,"o":1.5326,"h":1.5386,"l":1.5313,"c":1.5360},
{"i":20,"o":1.5360,"h":1.5371,"l":1.5285,"c":1.5288},
{"i":21,"o":1.5290,"h":1.5369,"l":1.5285,"c":1.5322},
{"i":22,"o":1.5324,"h":1.5380,"l":1.5280,"c":1.5287},
{"i":23,"o":1.5285,"h":1.5352,"l":1.5263,"c":1.5328},
{"i":24,"o":1.5324,"h":1.5351,"l":1.5281,"c":1.5290},
{"i":25,"o":1.5290,"h":1.5307,"l":1.5211,"c":1.5217},
{"i":26,"o":1.5217,"h":1.5355,"l":1.5214,"c":1.5341},
{"i":27,"o":1.5348,"h":1.5381,"l":1.5290,"c":1.5371},
{"i":28,"o":1.5362,"h":1.5381,"l":1.5227,"c":1.5236},
{"i":29,"o":1.5236,"h":1.5285,"l":1.5202,"c":1.5277},
{"i":30,"o":1.5272,"h":1.5283,"l":1.5222,"c":1.5263},
{"i":31,"o":1.5263,"h":1.5270,"l":1.5140,"c":1.5154},
{"i":32,"o":1.5153,"h":1.5180,"l":1.5067,"c":1.5068},
{"i":33,"o":1.5076,"h":1.5082,"l":1.4992,"c":1.4999},
{"i":34,"o":1.4999,"h":1.5053,"l":1.4985,"c":1.5032},
{"i":35,"o":1.5035,"h":1.5069,"l":1.5024,"c":1.5048},
{"i":36,"o":1.5048,"h":1.5067,"l":1.5004,"c":1.5016},
{"i":37,"o":1.5013,"h":1.5020,"l":1.4892,"c":1.4914},
{"i":38,"o":1.4910,"h":1.4916,"l":1.4843,"c":1.4881},
{"i":39,"o":1.4883,"h":1.4904,"l":1.4797,"c":1.4804},
{"i":40,"o":1.4805,"h":1.4892,"l":1.4803,"c":1.4861},
{"i":41,"o":1.4861,"h":1.4917,"l":1.4806,"c":1.4881},
{"i":42,"o":1.4881,"h":1.4907,"l":1.4839,"c":1.4887},
{"i":43,"o":1.4884,"h":1.4955,"l":1.4851,"c":1.4941},
{"i":44,"o":1.4941,"h":1.4974,"l":1.4887,"c":1.4907},
{"i":45,"o":1.4907,"h":1.4927,"l":1.4838,"c":1.4854},
{"i":46,"o":1.4853,"h":1.4899,"l":1.4822,"c":1.4835},
{"i":47,"o":1.4836,"h":1.4860,"l":1.4800,"c":1.4822},
{"i":48,"o":1.4825,"h":1.4871,"l":1.4808,"c":1.4811},
{"i":49,"o":1.4809,"h":1.4830,"l":1.4771,"c":1.4794},
{"i":50,"o":1.4796,"h":1.4800,"l":1.4726,"c":1.4732},
{"i":51,"o":1.4732,"h":1.4798,"l":1.4725,"c":1.4773},
{"i":52,"o":1.4772,"h":1.4804,"l":1.4750,"c":1.4786},
{"i":53,"o":1.4780,"h":1.4813,"l":1.4742,"c":1.4790},
{"i":54,"o":1.4788,"h":1.4935,"l":1.4786,"c":1.4923},
{"i":55,"o":1.4923,"h":1.5034,"l":1.4913,"c":1.4964},
{"i":56,"o":1.4958,"h":1.4996,"l":1.4944,"c":1.4964},
{"i":57,"o":1.4964,"h":1.4999,"l":1.4894,"c":1.4913},
{"i":58,"o":1.4913,"h":1.4972,"l":1.4898,"c":1.4961},
{"i":59,"o":1.4960,"h":1.5030,"l":1.4950,"c":1.4976},
{"i":60,"o":1.4976,"h":1.5046,"l":1.4969,"c":1.4996},
{"i":61,"o":1.4996,"h":1.5020,"l":1.4947,"c":1.5009},
{"i":62,"o":1.5009,"h":1.5023,"l":1.4964,"c":1.4982},
{"i":63,"o":1.4974,"h":1.5095,"l":1.4950,"c":1.5085},
{"i":64,"o":1.5081,"h":1.5184,"l":1.5057,"c":1.5180},
{"i":65,"o":1.5180,"h":1.5195,"l":1.4990,"c":1.5037},
{"i":66,"o":1.5039,"h":1.5088,"l":1.4982,"c":1.5021},
{"i":67,"o":1.5021,"h":1.5102,"l":1.4994,"c":1.5093},
{"i":68,"o":1.5088,"h":1.5100,"l":1.4958,"c":1.4977},
{"i":69,"o":1.4976,"h":1.5001,"l":1.4964,"c":1.4990},
{"i":70,"o":1.4990,"h":1.5001,"l":1.4903,"c":1.4929},
{"i":71,"o":1.4930,"h":1.4939,"l":1.4880,"c":1.4880},
{"i":72,"o":1.4881,"h":1.4892,"l":1.4758,"c":1.4778},
{"i":73,"o":1.4779,"h":1.4841,"l":1.4763,"c":1.4807},
{"i":74,"o":1.4809,"h":1.4838,"l":1.4779,"c":1.4780},
{"i":75,"o":1.4782,"h":1.4788,"l":1.4703,"c":1.4723},
{"i":76,"o":1.4724,"h":1.4769,"l":1.4647,"c":1.4655},
{"i":77,"o":1.4654,"h":1.4787,"l":1.4649,"c":1.4749},
{"i":78,"o":1.4740,"h":1.4763,"l":1.4671,"c":1.4674},
{"i":79,"o":1.4674,"h":1.4748,"l":1.4671,"c":1.4698},
{"i":80,"o":1.4697,"h":1.4700,"l":1.4583,"c":1.4646},
{"i":81,"o":1.4646,"h":1.4721,"l":1.4629,"c":1.4688},
{"i":82,"o":1.4689,"h":1.4730,"l":1.4669,"c":1.4700},
{"i":83,"o":1.4710,"h":1.4742,"l":1.4656,"c":1.4659},
{"i":84,"o":1.4660,"h":1.4751,"l":1.4642,"c":1.4744},
{"i":85,"o":1.4743,"h":1.4817,"l":1.4722,"c":1.4767},
{"i":86,"o":1.4767,"h":1.4800,"l":1.4727,"c":1.4743},
{"i":87,"o":1.4743,"h":1.4784,"l":1.4669,"c":1.4694},
{"i":88,"o":1.4699,"h":1.4760,"l":1.4685,"c":1.4710},
{"i":89,"o":1.4710,"h":1.4784,"l":1.4710,"c":1.4780},
{"i":90,"o":1.4780,"h":1.4821,"l":1.4752,"c":1.4781},
{"i":91,"o":1.4780,"h":1.4796,"l":1.4705,"c":1.4711},
{"i":92,"o":1.4711,"h":1.4751,"l":1.4679,"c":1.4722},
{"i":93,"o":1.4719,"h":1.4778,"l":1.4699,"c":1.4748},
{"i":94,"o":1.4746,"h":1.4758,"l":1.4697,"c":1.4738},
{"i":95,"o":1.4740,"h":1.4755,"l":1.4689,"c":1.4691},
{"i":96,"o":1.4691,"h":1.4720,"l":1.4676,"c":1.4678},
{"i":97,"o":1.4678,"h":1.4726,"l":1.4665,"c":1.4686},
{"i":98,"o":1.4682,"h":1.4735,"l":1.4676,"c":1.4724},
{"i":99,"o":1.4723,"h":1.4757,"l":1.4700,"c":1.4739},
{"i":100,"o":1.4739,"h":1.4754,"l":1.4723,"c":1.4746},
{"i":101,"o":1.4747,"h":1.4762,"l":1.4709,"c":1.4716},
{"i":102,"o":1.4716,"h":1.4739,"l":1.4676,"c":1.4729},
{"i":103,"o":1.4721,"h":1.4749,"l":1.4699,"c":1.4714},
{"i":104,"o":1.4713,"h":1.4793,"l":1.4707,"c":1.4769},
{"i":105,"o":1.4769,"h":1.4784,"l":1.4704,"c":1.4723},
{"i":106,"o":1.4722,"h":1.4735,"l":1.4679,"c":1.4713},
{"i":107,"o":1.4716,"h":1.4795,"l":1.4697,"c":1.4785},
{"i":108,"o":1.4780,"h":1.4825,"l":1.4716,"c":1.4730},
{"i":109,"o":1.4731,"h":1.4758,"l":1.4687,"c":1.4689},
{"i":110,"o":1.4689,"h":1.4703,"l":1.4655,"c":1.4673},
{"i":111,"o":1.4672,"h":1.4720,"l":1.4663,"c":1.4700},
{"i":112,"o":1.4700,"h":1.4715,"l":1.4670,"c":1.4681},
{"i":113,"o":1.4674,"h":1.4725,"l":1.4663,"c":1.4714},
{"i":114,"o":1.4708,"h":1.4758,"l":1.4692,"c":1.4750},
{"i":115,"o":1.4750,"h":1.4771,"l":1.4663,"c":1.4699},
{"i":116,"o":1.4699,"h":1.4741,"l":1.4681,"c":1.4735},
{"i":117,"o":1.4733,"h":1.4740,"l":1.4614,"c":1.4625},
{"i":118,"o":1.4610,"h":1.4671,"l":1.4608,"c":1.4637},
{"i":119,"o":1.4636,"h":1.4771,"l":1.4617,"c":1.4735},
{"i":120,"o":1.4731,"h":1.4765,"l":1.4676,"c":1.4711},
{"i":121,"o":1.4709,"h":1.4914,"l":1.4706,"c":1.4838},
{"i":122,"o":1.4841,"h":1.4863,"l":1.4780,"c":1.4789},
{"i":123,"o":1.4787,"h":1.4832,"l":1.4764,"c":1.4767},
{"i":124,"o":1.4767,"h":1.4819,"l":1.4731,"c":1.4731},
{"i":125,"o":1.4728,"h":1.4813,"l":1.4691,"c":1.4799},
{"i":126,"o":1.4797,"h":1.4894,"l":1.4789,"c":1.4876},
{"i":127,"o":1.4873,"h":1.4897,"l":1.4840,"c":1.4896},
{"i":128,"o":1.4885,"h":1.5100,"l":1.4880,"c":1.5035},
{"i":129,"o":1.5035,"h":1.5061,"l":1.4933,"c":1.4935},
{"i":130,"o":1.4933,"h":1.4975,"l":1.4776,"c":1.4812},
{"i":131,"o":1.4803,"h":1.4881,"l":1.4775,"c":1.4784},
{"i":132,"o":1.4782,"h":1.4824,"l":1.4764,"c":1.4787},
{"i":133,"o":1.4783,"h":1.4834,"l":1.4778,"c":1.4804},
{"i":134,"o":1.4805,"h":1.4897,"l":1.4797,"c":1.4888},
{"i":135,"o":1.4889,"h":1.4896,"l":1.4822,"c":1.4837},
{"i":136,"o":1.4836,"h":1.4838,"l":1.4778,"c":1.4795},
{"i":137,"o":1.4789,"h":1.4820,"l":1.4759,"c":1.4798},
{"i":138,"o":1.4806,"h":1.4856,"l":1.4788,"c":1.4844},
{"i":139,"o":1.4839,"h":1.4925,"l":1.4828,"c":1.4872},
{"i":140,"o":1.4869,"h":1.4926,"l":1.4834,"c":1.4839},
{"i":141,"o":1.4839,"h":1.4853,"l":1.4767,"c":1.4798},
{"i":142,"o":1.4790,"h":1.4797,"l":1.4750,"c":1.4767},
{"i":143,"o":1.4755,"h":1.4783,"l":1.4740,"c":1.4756},
{"i":144,"o":1.4755,"h":1.4769,"l":1.4665,"c":1.4668},
{"i":145,"o":1.4668,"h":1.4694,"l":1.4663,"c":1.4674},
{"i":146,"o":1.4672,"h":1.4705,"l":1.4661,"c":1.4689},
{"i":147,"o":1.4689,"h":1.4767,"l":1.4682,"c":1.4761},
{"i":148,"o":1.4760,"h":1.4829,"l":1.4758,"c":1.4806},
{"i":149,"o":1.4805,"h":1.4867,"l":1.4776,"c":1.4786},
{"i":150,"o":1.4783,"h":1.4827,"l":1.4769,"c":1.4820},
{"i":151,"o":1.4822,"h":1.4981,"l":1.4808,"c":1.4975},
{"i":152,"o":1.4970,"h":1.5114,"l":1.4968,"c":1.5002},
{"i":153,"o":1.4992,"h":1.5012,"l":1.4852,"c":1.4859},
{"i":154,"o":1.4848,"h":1.4863,"l":1.4794,"c":1.4794},
{"i":155,"o":1.4793,"h":1.4848,"l":1.4791,"c":1.4819},
{"i":156,"o":1.4819,"h":1.4918,"l":1.4812,"c":1.4908},
{"i":157,"o":1.4906,"h":1.4925,"l":1.4872,"c":1.4879},
{"i":158,"o":1.4880,"h":1.4909,"l":1.4827,"c":1.4869},
{"i":159,"o":1.4868,"h":1.4935,"l":1.4860,"c":1.4897},
{"i":160,"o":1.4895,"h":1.4961,"l":1.4855,"c":1.4937},
{"i":161,"o":1.4936,"h":1.4966,"l":1.4892,"c":1.4903},
{"i":162,"o":1.4902,"h":1.4921,"l":1.4857,"c":1.4880},
{"i":163,"o":1.4871,"h":1.4899,"l":1.4862,"c":1.4876},
{"i":164,"o":1.4880,"h":1.4984,"l":1.4870,"c":1.4971},
{"i":165,"o":1.4971,"h":1.5063,"l":1.4943,"c":1.4996},
{"i":166,"o":1.4994,"h":1.5049,"l":1.4936,"c":1.4974},
{"i":167,"o":1.4971,"h":1.4988,"l":1.4882,"c":1.4988},
{"i":168,"o":1.4980,"h":1.4988,"l":1.4912,"c":1.4937},
{"i":169,"o":1.4931,"h":1.4993,"l":1.4916,"c":1.4980},
{"i":170,"o":1.4980,"h":1.5013,"l":1.4914,"c":1.4923},
{"i":171,"o":1.4923,"h":1.4940,"l":1.4852,"c":1.4918},
{"i":172,"o":1.4915,"h":1.4978,"l":1.4883,"c":1.4973},
{"i":173,"o":1.4959,"h":1.5098,"l":1.4950,"c":1.5032},
{"i":174,"o":1.5034,"h":1.5058,"l":1.4951,"c":1.5025},
{"i":175,"o":1.5030,"h":1.5036,"l":1.4901,"c":1.4924},
{"i":176,"o":1.4923,"h":1.4956,"l":1.4827,"c":1.4852},
{"i":177,"o":1.4852,"h":1.4910,"l":1.4814,"c":1.4833},
{"i":178,"o":1.4827,"h":1.4831,"l":1.4760,"c":1.4766},
{"i":179,"o":1.4766,"h":1.4839,"l":1.4735,"c":1.4821},
{"i":180,"o":1.4817,"h":1.4831,"l":1.4776,"c":1.4791},
{"i":181,"o":1.4787,"h":1.4801,"l":1.4646,"c":1.4682},
{"i":182,"o":1.4681,"h":1.4759,"l":1.4646,"c":1.4652},
{"i":183,"o":1.4656,"h":1.4683,"l":1.4605,"c":1.4627},
{"i":184,"o":1.46253,"h":1.46426,"l":1.45852,"c":1.45887}
]
},
"vconcat": [
{
 "width": 1859, "height": 994,
 "encoding": {"x": {"field": "i", "type": "quantitative", "title": null, "scale": {"domain": [-0.375, 464.375], "nice": false, "zero": false},
   "axis": {"values": [0,32,64,96,128,160,192,224,256,288,320,352], "labelAlign": "left", "labelPadding": 3,
     "labelExpr": "['31 Aug 2014','12 Apr 2015','22 Nov 2015','3 Jul 2016','12 Feb 2017','24 Sep 2017','6 May 2018','16 Dec 2018','28 Jul 2019','8 Mar 2020','18 Oct 2020','30 May 2021'][round(datum.value/32)]"}}},
 "layer": [
  {"data": {"values": [
    {"i":61.9,"i2":79.8,"p":1.6049,"p2":1.58395},
    {"i":175.9,"i2":193.9,"p":1.60551,"p2":1.58483},
    {"i":278.9,"i2":296.9,"p":1.6082,"p2":1.5872},
    {"i":117.9,"i2":135.9,"p":1.39162,"p2":1.37095},
    {"i":275.9,"i2":293.9,"p":1.43942,"p2":1.41874}]},
   "mark": {"type": "rect", "color": "#FFDEAD"},
   "encoding": {"x2": {"field": "i2"}, "y": {"field": "p", "type": "quantitative", "title": null, "scale": {"domain": [1.29434, 1.63127], "nice": false, "zero": false}}, "y2": {"field": "p2"}}},
  {"data": {"values": [{"i":-0.375,"i2":464.375,"p":1.45857}]},
   "mark": {"type": "rule", "color": "#8A9AAA", "strokeWidth": 1},
   "encoding": {"x2": {"field": "i2"}, "y": {"field": "p", "type": "quantitative", "title": null, "scale": {"domain": [1.29434, 1.63127], "nice": false, "zero": false}}}},
  {"data": {"name": "w"},
   "mark": {"type": "rule", "strokeWidth": 1},
   "encoding": {"y": {"field": "l", "type": "quantitative", "title": null, "scale": {"domain": [1.29434, 1.63127], "nice": false, "zero": false}}, "y2": {"field": "h"},
     "color": {"condition": {"test": "datum.c >= datum.o", "value": "#0000CD"}, "value": "#FF0000"}}},
  {"data": {"name": "w"},
   "mark": {"type": "bar", "size": 3},
   "encoding": {"y": {"field": "o", "type": "quantitative", "title": null, "scale": {"domain": [1.29434, 1.63127], "nice": false, "zero": false},
       "axis": {"orient": "right", "format": ".5f", "values": [1.6149,1.5708,1.5489,1.5267,1.5048,1.4826,1.4385,1.4166,1.3944,1.3725,1.3503,1.3281,1.3062]}},
     "y2": {"field": "c"},
     "color": {"condition": {"test": "datum.c >= datum.o", "value": "#0000CD"}, "value": "#FF0000"}}},
  {"data": {"values": [{"i":-0.375,"i2":464.375,"p":1.59554,"p2":1.59554},{"i":126.9,"i2":464.375,"p":1.37941,"p2":1.48755}]},
   "mark": {"type": "rule", "color": "#0000CD", "strokeWidth": 2},
   "encoding": {"x2": {"field": "i2"}, "y": {"field": "p", "type": "quantitative", "title": null, "scale": {"domain": [1.29434, 1.63127], "nice": false, "zero": false}}, "y2": {"field": "p2"}}},
  {"data": {"values": [
    {"i":78.35,"p":1.6047,"t":"Jan 2016"},
    {"i":198.2,"p":1.6033,"t":"Mar 2018"},
    {"i":299.85,"p":1.6008,"t":"Mar 2020"},
    {"i":365.2,"p":1.4411,"t":"Oct 2021"},
    {"i":277.4,"p":1.4062,"t":"Feb 2020"},
    {"i":123.6,"p":1.3598,"t":"Feb 2017"}]},
   "mark": {"type": "text", "align": "left", "baseline": "alphabetic", "font": "Lato", "fontWeight": "bold", "fontSize": 28, "color": "#000000"},
   "encoding": {"y": {"field": "p", "type": "quantitative", "title": null, "scale": {"domain": [1.29434, 1.63127], "nice": false, "zero": false}}, "text": {"field": "t"}}},
  {"data": {"values": [{"i":264.4,"p":1.3551,"t":"EURCAD: Weekly Timeframe"}]},
   "mark": {"type": "text", "align": "left", "baseline": "alphabetic", "font": "Lato", "fontWeight": "bold", "fontSize": 43, "color": "#000000"},
   "encoding": {"y": {"field": "p", "type": "quantitative", "title": null, "scale": {"domain": [1.29434, 1.63127], "nice": false, "zero": false}}, "text": {"field": "t"}}},
  {"data": {"values": [{"i":176.4,"p":1.4313,"t":"forexgdp.com"}]},
   "mark": {"type": "text", "align": "left", "baseline": "alphabetic", "font": "Lato", "fontWeight": "bold", "fontSize": 34, "color": "#808080"},
   "encoding": {"y": {"field": "p", "type": "quantitative", "title": null, "scale": {"domain": [1.29434, 1.63127], "nice": false, "zero": false}}, "text": {"field": "t"}}},
  {"data": {"values": [{"i":5.43,"p":1.6254,"t":"EURCAD,Weekly\u00a0 1.46566 1.46824 1.45832 1.45857"}]},
   "mark": {"type": "text", "align": "left", "baseline": "alphabetic", "font": "DejaVu Sans", "fontSize": 12, "color": "#000000"},
   "encoding": {"y": {"field": "p", "type": "quantitative", "title": null, "scale": {"domain": [1.29434, 1.63127], "nice": false, "zero": false}}, "text": {"field": "t"}}},
  {"data": {"values": [{"i":0.55,"p":1.6258,"t":"▼"}]},
   "mark": {"type": "text", "align": "left", "baseline": "alphabetic", "font": "DejaVu Sans", "fontSize": 8, "color": "#000000"},
   "encoding": {"y": {"field": "p", "type": "quantitative", "title": null, "scale": {"domain": [1.29434, 1.63127], "nice": false, "zero": false}}, "text": {"field": "t"}}},
  {"data": {"values": [{"i":464.9,"i2":480.4,"p":1.5971,"p2":1.59154}]},
   "mark": {"type": "rect", "color": "#0000CD"},
   "encoding": {"x2": {"field": "i2"}, "y": {"field": "p", "type": "quantitative", "title": null, "scale": {"domain": [1.29434, 1.63127], "nice": false, "zero": false}}, "y2": {"field": "p2"}}},
  {"data": {"values": [{"i":464.9,"i2":480.4,"p":1.46111,"p2":1.45535}]},
   "mark": {"type": "rect", "color": "#000000"},
   "encoding": {"x2": {"field": "i2"}, "y": {"field": "p", "type": "quantitative", "title": null, "scale": {"domain": [1.29434, 1.63127], "nice": false, "zero": false}}, "y2": {"field": "p2"}}},
  {"data": {"values": [{"i":466.4,"p":1.5928,"t":"1.59554"},{"i":466.4,"p":1.4567,"t":"1.45857"}]},
   "mark": {"type": "text", "align": "left", "baseline": "alphabetic", "font": "DejaVu Sans", "fontSize": 12, "color": "#FFFFFF"},
   "encoding": {"y": {"field": "p", "type": "quantitative", "title": null, "scale": {"domain": [1.29434, 1.63127], "nice": false, "zero": false}}, "text": {"field": "t"}}}
 ]
},
{
 "width": 1865, "height": 993,
 "view": {"stroke": null},
 "resolve": {"axis": {"y": "independent"}},
 "encoding": {"x": {"field": "i", "type": "quantitative", "title": null, "scale": {"domain": [-0.9375, 232.1875], "nice": false, "zero": false},
   "axis": {"values": [0,16,32,48,64,80,96,112,128,144,160,176], "labelAlign": "left", "labelPadding": 3,
     "labelExpr": "['20 Jan 2021','11 Feb 2021','5 Mar 2021','29 Mar 2021','20 Apr 2021','12 May 2021','3 Jun 2021','25 Jun 2021','19 Jul 2021','10 Aug 2021','1 Sep 2021','23 Sep 2021'][round(datum.value/16)]"}}},
 "layer": [
  {"data": {"values": [
    {"i":77.96,"i2":82.9,"p":1.45947,"p2":1.45672},
    {"i":126,"i2":131,"p":1.51106,"p2":1.50833},
    {"i":148.9,"i2":153.9,"p":1.51106,"p2":1.50833},
    {"i":170,"i2":175,"p":1.5106,"p2":1.50785}]},
   "mark": {"type": "rect", "color": "#FFDEAD"},
   "encoding": {"x2": {"field": "i2"}, "y": {"field": "p", "type": "quantitative", "title": null, "axis": null, "scale": {"domain": [1.45551, 1.56469], "nice": false, "zero": false}}, "y2": {"field": "p2"}}},
  {"data": {"values": [{"i":-0.1875,"i2":232.1875,"p":1.45887}]},
   "mark": {"type": "rule", "color": "#8A9AAA", "strokeWidth": 1},
   "encoding": {"x2": {"field": "i2"}, "y": {"field": "p", "type": "quantitative", "title": null, "axis": null, "scale": {"domain": [1.45551, 1.56469], "nice": false, "zero": false}}}},
  {"data": {"name": "d"},
   "mark": {"type": "rule", "strokeWidth": 1},
   "encoding": {"y": {"field": "l", "type": "quantitative", "title": null, "axis": null, "scale": {"domain": [1.45551, 1.56469], "nice": false, "zero": false}}, "y2": {"field": "h"},
     "color": {"condition": {"test": "datum.c >= datum.o", "value": "#0000CD"}, "value": "#FF0000"}}},
  {"data": {"name": "d"},
   "mark": {"type": "bar", "size": 5},
   "encoding": {"y": {"field": "o", "type": "quantitative", "title": null, "scale": {"domain": [1.45551, 1.56469], "nice": false, "zero": false},
       "axis": {"orient": "right", "format": ".5f", "values": [1.5593,1.5522,1.545,1.5379,1.5307,1.5236,1.5165,1.5022,1.4951,1.4879,1.4808,1.4737,1.4665]}},
     "y2": {"field": "c"},
     "color": {"condition": {"test": "datum.c >= datum.o", "value": "#0000CD"}, "value": "#FF0000"}}},
  {"data": {"values": [{"i":-0.1875,"i2":232.1875,"p":1.50929},{"i":-0.1875,"i2":232.1875,"p":1.45801}]},
   "mark": {"type": "rule", "color": "#0000CD", "strokeWidth": 2},
   "encoding": {"x2": {"field": "i2"}, "y": {"field": "p", "type": "quantitative", "title": null, "axis": null, "scale": {"domain": [1.45551, 1.56469], "nice": false, "zero": false}}}},
  {"data": {"values": [{"i":-0.1875,"i2":232.1875,"p":1.45551,"p2":1.56469}]},
   "mark": {"type": "rect", "fillOpacity": 0, "stroke": "#000000", "strokeWidth": 1},
   "encoding": {"x2": {"field": "i2"}, "y": {"field": "p", "type": "quantitative", "title": null, "axis": null, "scale": {"domain": [1.45551, 1.56469], "nice": false, "zero": false}}, "y2": {"field": "p2"}}},
  {"data": {"values": [{"i":106.1,"p":1.5467,"t":"EURCAD: Daily Timeframe"}]},
   "mark": {"type": "text", "align": "left", "baseline": "alphabetic", "font": "Lato", "fontWeight": "bold", "fontSize": 43, "color": "#000000"},
   "encoding": {"y": {"field": "p", "type": "quantitative", "title": null, "axis": null, "scale": {"domain": [1.45551, 1.56469], "nice": false, "zero": false}}, "text": {"field": "t"}}},
  {"data": {"values": [{"i":135.5,"p":1.5168,"t":"Resistance"},{"i":133.8,"p":1.4607,"t":"Support"}]},
   "mark": {"type": "text", "align": "left", "baseline": "alphabetic", "font": "Lato", "fontWeight": "bold", "fontSize": 44, "color": "#808080"},
   "encoding": {"y": {"field": "p", "type": "quantitative", "title": null, "axis": null, "scale": {"domain": [1.45551, 1.56469], "nice": false, "zero": false}}, "text": {"field": "t"}}},
  {"data": {"values": [{"i":2.84,"p":1.56293,"t":"EURCAD,Daily\u00a0 1.46253 1.46426 1.45852 1.45887"}]},
   "mark": {"type": "text", "align": "left", "baseline": "alphabetic", "font": "DejaVu Sans", "fontSize": 12, "color": "#000000"},
   "encoding": {"y": {"field": "p", "type": "quantitative", "title": null, "axis": null, "scale": {"domain": [1.45551, 1.56469], "nice": false, "zero": false}}, "text": {"field": "t"}}},
  {"data": {"values": [{"i":0.4,"p":1.5632,"t":"▼"}]},
   "mark": {"type": "text", "align": "left", "baseline": "alphabetic", "font": "DejaVu Sans", "fontSize": 8, "color": "#000000"},
   "encoding": {"y": {"field": "p", "type": "quantitative", "title": null, "axis": null, "scale": {"domain": [1.45551, 1.56469], "nice": false, "zero": false}}, "text": {"field": "t"}}},
  {"data": {"values": [{"i":232.46,"i2":240.2,"p":1.51004,"p2":1.5084}]},
   "mark": {"type": "rect", "color": "#0000CD"},
   "encoding": {"x2": {"field": "i2"}, "y": {"field": "p", "type": "quantitative", "title": null, "axis": null, "scale": {"domain": [1.45551, 1.56469], "nice": false, "zero": false}}, "y2": {"field": "p2"}}},
  {"data": {"values": [{"i":232.46,"i2":240.2,"p":1.46002,"p2":1.45837}]},
   "mark": {"type": "rect", "color": "#000000"},
   "encoding": {"x2": {"field": "i2"}, "y": {"field": "p", "type": "quantitative", "title": null, "axis": null, "scale": {"domain": [1.45551, 1.56469], "nice": false, "zero": false}}, "y2": {"field": "p2"}}},
  {"data": {"values": [{"i":233.2,"p":1.50873,"t":"1.50929"},{"i":233.2,"p":1.4587,"t":"1.45887"}]},
   "mark": {"type": "text", "align": "left", "baseline": "alphabetic", "font": "DejaVu Sans", "fontSize": 12, "color": "#FFFFFF"},
   "encoding": {"y": {"field": "p", "type": "quantitative", "title": null, "axis": null, "scale": {"domain": [1.45551, 1.56469], "nice": false, "zero": false}}, "text": {"field": "t"}}},
  {"data": {"values": [{"i":232.46,"i2":240.2,"p":1.45842,"p2":1.45677}]},
   "mark": {"type": "rect", "color": "#0000CD"},
   "encoding": {"x2": {"field": "i2"}, "y": {"field": "p", "type": "quantitative", "title": null, "axis": null, "scale": {"domain": [1.45551, 1.56469], "nice": false, "zero": false}}, "y2": {"field": "p2"}}},
  {"data": {"values": [{"i":233.2,"p":1.45716,"t":"1.45801"}]},
   "mark": {"type": "text", "align": "left", "baseline": "alphabetic", "font": "DejaVu Sans", "fontSize": 12, "color": "#FFFFFF"},
   "encoding": {"y": {"field": "p", "type": "quantitative", "title": null, "axis": null, "scale": {"domain": [1.45551, 1.56469], "nice": false, "zero": false}}, "text": {"field": "t"}}}
 ]
}
]
}
